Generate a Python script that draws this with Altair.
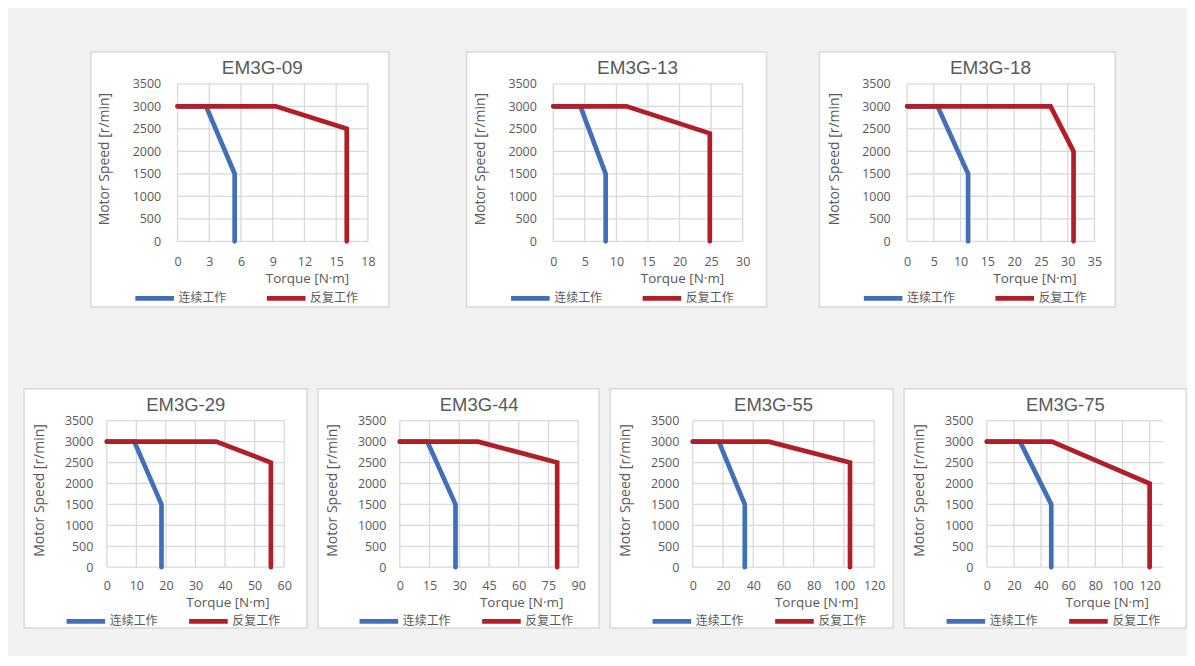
import altair as alt
import pandas as pd

# ---------------- data ----------------
MODELS = ["EM3G-09", "EM3G-13", "EM3G-18", "EM3G-29", "EM3G-44", "EM3G-55", "EM3G-75"]
SERIES = ["连续工作", "反复工作"]

X_MAX = [18, 30, 35, 60, 90, 120, 130]
X_STEP = [3, 5, 5, 10, 15, 20, 20]
X_TICK_MAX = [18, 30, 35, 60, 90, 120, 120]
SPEED_TICKS = [0, 500, 1000, 1500, 2000, 2500, 3000, 3500]

CONT_SPEED = [3000, 3000, 1500, 0]
CONT_TORQUE = [
    [0, 2.7, 5.4, 5.4],
    [0, 4.3, 8.3, 8.3],
    [0, 5.7, 11.4, 11.4],
    [0, 9.3, 18.5, 18.5],
    [0, 13.9, 28.1, 28.1],
    [0, 17.2, 34.4, 34.4],
    [0, 24.5, 47.5, 47.5],
]
PEAK_TORQUE = [
    [0, 9.3, 16.0, 16.0],
    [0, 11.6, 24.8, 24.8],
    [0, 26.8, 31.1, 31.1],
    [0, 37.0, 55.5, 55.5],
    [0, 39.5, 79.4, 79.4],
    [0, 50.3, 104.0, 104.0],
    [0, 48.0, 120.0, 120.0],
]
PEAK_SPEED = [
    [3000, 3000, 2500, 0],
    [3000, 3000, 2400, 0],
    [3000, 3000, 2000, 0],
    [3000, 3000, 2500, 0],
    [3000, 3000, 2500, 0],
    [3000, 3000, 2500, 0],
    [3000, 3000, 2000, 0],
]

# ---------------- layout / style ----------------
PLOT_W = [191, 190, 188, 178, 179, 182, 177]
RECT_L = [-87, -87, -88, -83, -82, -83, -83]
RECT_R = [21, 24, 21, 23, 21, 19, 23]
LEG_X = [-45, -45, -46, -43, -43, -43, -43]

BG = "#f2f2f2"
GRID = "#d9d9d9"
TXT = "#595959"
BLUE = "#4170b8"
RED = "#b21e28"
LABEL_FONT = "Open Sans"
TITLE_FONT = "Liberation Sans"
CJK_FONT = "Noto Sans CJK SC"


def panel(i):
    top = i < 3
    W = PLOT_W[i]
    H = 158 if top else 147
    rect_b = 66 if top else 61
    xs = alt.Scale(domain=[0, X_MAX[i]], nice=False, zero=True)
    ys = alt.Scale(domain=[0, 3500], nice=False, zero=True)
    xticks = list(range(0, X_TICK_MAX[i] + 1, X_STEP[i]))

    bg = alt.Chart(alt.Data(values=[{}])).mark_rect(
        fill="white", stroke="#d9d9d9", strokeWidth=1.5
    ).encode(
        x=alt.value(RECT_L[i]), x2=alt.value(W + RECT_R[i]),
        y=alt.value(-32), y2=alt.value(H + rect_b),
    )

    x_axis = alt.Axis(
        values=xticks, grid=False, domain=False, ticks=False, format="d",
        labelFont=LABEL_FONT, labelFontSize=12.5, labelColor=TXT,
        labelPadding=(20 if top else 18.5), labelBaseline="middle",
        labelFlush=False, labelOverlap=False,
        title="Torque [N·m]", titleFont=LABEL_FONT, titleFontSize=13.5,
        titleFontWeight="normal", titleColor=TXT,
        titleX=0.68 * W, titleY=(37 if top else 35),
        titleAlign="center", titleBaseline="middle", zindex=1,
    )
    y_axis = alt.Axis(
        values=SPEED_TICKS, grid=False, domain=False, ticks=False, format="d",
        labelFont=LABEL_FONT, labelFontSize=12.5, labelColor=TXT,
        labelPadding=(17 if top else 14), labelFlush=False, labelOverlap=False,
        title="Motor Speed [r/min]", titleFont=LABEL_FONT, titleFontSize=14,
        titleFontWeight="normal", titleColor=TXT,
        titleX=(-73 if top else -68), titleY=H / 2 - 4, titleAngle=270,
        titleAlign="center", titleBaseline="middle", zindex=1,
    )

    vgrid = alt.Chart(pd.DataFrame({"T": xticks})).mark_rule(
        color=GRID, strokeWidth=1.3
    ).encode(x=alt.X("T:Q", scale=xs, axis=x_axis))
    hgrid = alt.Chart(pd.DataFrame({"N": SPEED_TICKS})).mark_rule(
        color=GRID, strokeWidth=1.3
    ).encode(y=alt.Y("N:Q", scale=ys, axis=y_axis))

    rows = []
    for k, (t, n) in enumerate(zip(CONT_TORQUE[i], CONT_SPEED)):
        rows.append({"T": t, "N": n, "s": SERIES[0], "k": k})
    for k, (t, n) in enumerate(zip(PEAK_TORQUE[i], PEAK_SPEED[i])):
        rows.append({"T": t, "N": n, "s": SERIES[1], "k": k})
    df = pd.DataFrame(rows)

    legend = alt.Legend(
        orient="none", legendX=LEG_X[i], legendY=(193 if top else 179),
        direction="horizontal", title=None, symbolType="stroke",
        symbolSize=1500, symbolStrokeWidth=4.7, labelFont=CJK_FONT,
        labelFontSize=12, labelColor=TXT, labelOffset=2,
        columnPadding=(30 if top else 21), padding=0,
    )
    base = alt.Chart(df).mark_line(strokeWidth=4.7, strokeCap="round").encode(
        x=alt.X("T:Q", scale=xs, axis=x_axis),
        y=alt.Y("N:Q", scale=ys, axis=y_axis),
        order="k:O",
        color=alt.Color("s:N", scale=alt.Scale(domain=SERIES, range=[BLUE, RED]),
                        legend=legend),
    )
    blue = base.transform_filter(alt.datum.s == SERIES[0])
    red = base.transform_filter(alt.datum.s == SERIES[1])

    title = alt.Chart(alt.Data(values=[{}])).mark_text(
        text=MODELS[i], font=TITLE_FONT, fontSize=(19 if top else 18.5),
        color=TXT, align="center", baseline="middle",
    ).encode(x=alt.value(0.445 * W), y=alt.value(-16))

    return alt.layer(bg, vgrid, hgrid, blue, red, title).properties(width=W, height=H)


def indep(c):
    return c.resolve_scale(color="independent").resolve_legend(color="independent")


p = [panel(i) for i in range(7)]
top_row = indep(alt.hconcat(p[0], indep(alt.hconcat(p[1], p[2], spacing=51)), spacing=76))
bottom_row = indep(alt.hconcat(p[3], p[4], p[5], p[6], spacing=9))
chart = indep(alt.vconcat(top_row, bottom_row, spacing=80, center=True)).properties(
    background=BG,
    padding={"left": 15, "top": 42, "right": 0, "bottom": 24},
).configure_view(stroke=None)

chart.save("out.html", embed_options={"renderer": "svg", "actions": False})
